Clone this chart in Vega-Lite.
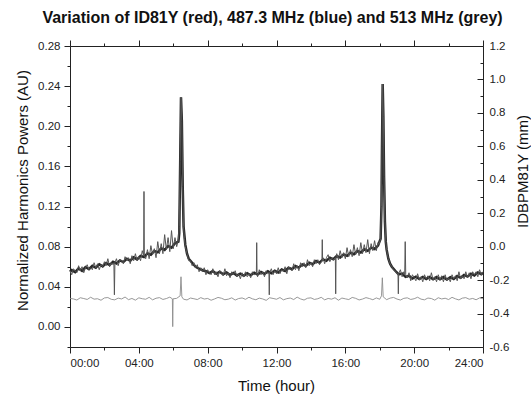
{
  "$schema": "https://vega.github.io/schema/vega-lite/v6.json",
  "autosize": {"type": "none"},
  "width": 413,
  "height": 301,
  "padding": {"left": 70, "top": 46, "right": 48, "bottom": 47},
  "background": "white",
  "title": {"text": "Variation of ID81Y (red), 487.3 MHz (blue) and 513 MHz (grey)", "font": "Liberation Sans", "fontSize": 16, "fontWeight": "bold", "color": "#111", "anchor": "middle", "offset": 14, "dx": -4},
  "config": {
    "view": {"stroke": null},
    "axis": {"labelFont": "Liberation Sans", "labelFontSize": 11.5, "labelColor": "#222", "titleFont": "Liberation Sans", "titleFontSize": 15, "titleFontWeight": "normal", "titleColor": "#111", "domainColor": "#222", "tickColor": "#222", "grid": false, "domainWidth": 1, "tickWidth": 1}
  },
  "datasets": {
    "blue": [
      {"t":0.0,"v":0.056},{"t":0.1,"v":0.052},{"t":0.2,"v":0.058},{"t":0.3,"v":0.056},{"t":0.4,"v":0.054},{"t":0.5,"v":0.061},{"t":0.6,"v":0.056},{"t":0.7,"v":0.060},{"t":0.8,"v":0.054},{"t":0.9,"v":0.059},
      {"t":1.0,"v":0.062},{"t":1.1,"v":0.057},{"t":1.2,"v":0.059},{"t":1.3,"v":0.057},{"t":1.4,"v":0.064},{"t":1.5,"v":0.059},{"t":1.6,"v":0.063},{"t":1.7,"v":0.057},{"t":1.8,"v":0.062},{"t":1.9,"v":0.060},
      {"t":2.0,"v":0.065},{"t":2.1,"v":0.061},{"t":2.2,"v":0.068},{"t":2.3,"v":0.060},{"t":2.4,"v":0.064},{"t":2.5,"v":0.062},{"t":2.55,"v":0.064},{"t":2.58,"v":0.032},{"t":2.61,"v":0.064},{"t":2.7,"v":0.068},{"t":2.8,"v":0.061},{"t":2.9,"v":0.067},
      {"t":3.0,"v":0.066},{"t":3.1,"v":0.063},{"t":3.2,"v":0.070},{"t":3.3,"v":0.066},{"t":3.4,"v":0.069},{"t":3.5,"v":0.063},{"t":3.6,"v":0.071},{"t":3.7,"v":0.066},{"t":3.8,"v":0.073},{"t":3.9,"v":0.066},
      {"t":4.0,"v":0.070},{"t":4.1,"v":0.066},{"t":4.2,"v":0.076},{"t":4.28,"v":0.071},{"t":4.3,"v":0.135},{"t":4.32,"v":0.071},{"t":4.4,"v":0.068},{"t":4.5,"v":0.077},{"t":4.6,"v":0.068},{"t":4.7,"v":0.081},{"t":4.8,"v":0.072},{"t":4.9,"v":0.078},
      {"t":5.0,"v":0.069},{"t":5.1,"v":0.085},{"t":5.2,"v":0.073},{"t":5.3,"v":0.083},{"t":5.4,"v":0.073},{"t":5.5,"v":0.092},{"t":5.6,"v":0.077},{"t":5.7,"v":0.089},{"t":5.8,"v":0.075},{"t":5.9,"v":0.096},
      {"t":6.0,"v":0.078},{"t":6.1,"v":0.089},{"t":6.2,"v":0.080},{"t":6.3,"v":0.087},{"t":6.35,"v":0.100},{"t":6.4,"v":0.165},{"t":6.45,"v":0.229},{"t":6.5,"v":0.205},{"t":6.55,"v":0.140},{"t":6.6,"v":0.100},{"t":6.65,"v":0.088},{"t":6.7,"v":0.080},{"t":6.8,"v":0.073},{"t":6.9,"v":0.066},
      {"t":7.0,"v":0.066},{"t":7.1,"v":0.061},{"t":7.2,"v":0.064},{"t":7.3,"v":0.059},{"t":7.4,"v":0.062},{"t":7.5,"v":0.055},{"t":7.6,"v":0.059},{"t":7.7,"v":0.055},{"t":7.8,"v":0.059},{"t":7.9,"v":0.052},
      {"t":8.0,"v":0.057},{"t":8.1,"v":0.054},{"t":8.2,"v":0.052},{"t":8.3,"v":0.058},{"t":8.4,"v":0.052},{"t":8.5,"v":0.055},{"t":8.6,"v":0.050},{"t":8.7,"v":0.056},{"t":8.8,"v":0.054},{"t":8.9,"v":0.051},
      {"t":9.0,"v":0.058},{"t":9.1,"v":0.051},{"t":9.2,"v":0.054},{"t":9.3,"v":0.049},{"t":9.4,"v":0.055},{"t":9.5,"v":0.052},{"t":9.6,"v":0.056},{"t":9.7,"v":0.050},{"t":9.8,"v":0.053},{"t":9.9,"v":0.048},
      {"t":10.0,"v":0.054},{"t":10.1,"v":0.050},{"t":10.2,"v":0.055},{"t":10.3,"v":0.050},{"t":10.4,"v":0.053},{"t":10.5,"v":0.049},{"t":10.6,"v":0.055},{"t":10.7,"v":0.052},{"t":10.83,"v":0.053},{"t":10.85,"v":0.084},{"t":10.87,"v":0.053},{"t":10.9,"v":0.050},
      {"t":11.0,"v":0.057},{"t":11.1,"v":0.052},{"t":11.2,"v":0.055},{"t":11.3,"v":0.050},{"t":11.4,"v":0.056},{"t":11.5,"v":0.053},{"t":11.56,"v":0.054},{"t":11.58,"v":0.032},{"t":11.6,"v":0.054},{"t":11.7,"v":0.058},{"t":11.8,"v":0.052},{"t":11.9,"v":0.056},
      {"t":12.0,"v":0.053},{"t":12.1,"v":0.059},{"t":12.2,"v":0.053},{"t":12.3,"v":0.057},{"t":12.4,"v":0.055},{"t":12.5,"v":0.060},{"t":12.6,"v":0.053},{"t":12.7,"v":0.060},{"t":12.8,"v":0.058},{"t":12.9,"v":0.056},
      {"t":13.0,"v":0.063},{"t":13.1,"v":0.057},{"t":13.2,"v":0.061},{"t":13.3,"v":0.056},{"t":13.4,"v":0.064},{"t":13.5,"v":0.060},{"t":13.6,"v":0.064},{"t":13.7,"v":0.059},{"t":13.8,"v":0.067},{"t":13.9,"v":0.061},
      {"t":14.0,"v":0.064},{"t":14.1,"v":0.060},{"t":14.2,"v":0.067},{"t":14.3,"v":0.063},{"t":14.4,"v":0.067},{"t":14.5,"v":0.062},{"t":14.64,"v":0.066},{"t":14.66,"v":0.087},{"t":14.68,"v":0.066},{"t":14.7,"v":0.069},{"t":14.8,"v":0.063},{"t":14.9,"v":0.069},
      {"t":15.0,"v":0.072},{"t":15.1,"v":0.065},{"t":15.2,"v":0.069},{"t":15.3,"v":0.067},{"t":15.42,"v":0.069},{"t":15.44,"v":0.033},{"t":15.46,"v":0.069},{"t":15.5,"v":0.073},{"t":15.6,"v":0.067},{"t":15.7,"v":0.076},{"t":15.8,"v":0.069},{"t":15.9,"v":0.074},
      {"t":16.0,"v":0.068},{"t":16.1,"v":0.079},{"t":16.2,"v":0.070},{"t":16.3,"v":0.077},{"t":16.4,"v":0.070},{"t":16.5,"v":0.082},{"t":16.6,"v":0.072},{"t":16.7,"v":0.079},{"t":16.8,"v":0.071},{"t":16.9,"v":0.084},
      {"t":17.0,"v":0.073},{"t":17.1,"v":0.082},{"t":17.2,"v":0.074},{"t":17.3,"v":0.087},{"t":17.4,"v":0.073},{"t":17.5,"v":0.083},{"t":17.6,"v":0.076},{"t":17.7,"v":0.086},{"t":17.8,"v":0.076},{"t":17.9,"v":0.084},
      {"t":17.95,"v":0.082},{"t":18.05,"v":0.088},{"t":18.1,"v":0.120},{"t":18.13,"v":0.180},{"t":18.17,"v":0.242},{"t":18.21,"v":0.210},{"t":18.25,"v":0.150},{"t":18.3,"v":0.105},{"t":18.35,"v":0.085},{"t":18.4,"v":0.077},{"t":18.45,"v":0.072},{"t":18.5,"v":0.068},{"t":18.6,"v":0.063},{"t":18.7,"v":0.060},{"t":18.8,"v":0.057},{"t":18.9,"v":0.056},
      {"t":19.0,"v":0.053},{"t":19.06,"v":0.053},{"t":19.08,"v":0.033},{"t":19.1,"v":0.053},{"t":19.2,"v":0.057},{"t":19.3,"v":0.050},{"t":19.4,"v":0.055},{"t":19.45,"v":0.052},{"t":19.48,"v":0.085},{"t":19.51,"v":0.052},{"t":19.6,"v":0.049},{"t":19.7,"v":0.054},{"t":19.8,"v":0.046},{"t":19.9,"v":0.052},
      {"t":20.0,"v":0.049},{"t":20.1,"v":0.046},{"t":20.2,"v":0.053},{"t":20.3,"v":0.047},{"t":20.4,"v":0.050},{"t":20.5,"v":0.045},{"t":20.6,"v":0.052},{"t":20.7,"v":0.048},{"t":20.8,"v":0.051},{"t":20.9,"v":0.046},
      {"t":21.0,"v":0.054},{"t":21.1,"v":0.047},{"t":21.2,"v":0.050},{"t":21.3,"v":0.045},{"t":21.4,"v":0.052},{"t":21.5,"v":0.047},{"t":21.6,"v":0.051},{"t":21.7,"v":0.045},{"t":21.8,"v":0.052},{"t":21.9,"v":0.046},
      {"t":22.0,"v":0.049},{"t":22.1,"v":0.045},{"t":22.2,"v":0.052},{"t":22.3,"v":0.048},{"t":22.4,"v":0.051},{"t":22.5,"v":0.046},{"t":22.6,"v":0.055},{"t":22.7,"v":0.048},{"t":22.8,"v":0.051},{"t":22.9,"v":0.048},
      {"t":23.0,"v":0.055},{"t":23.1,"v":0.049},{"t":23.2,"v":0.054},{"t":23.3,"v":0.048},{"t":23.4,"v":0.055},{"t":23.5,"v":0.052},{"t":23.6,"v":0.055},{"t":23.7,"v":0.050},{"t":23.8,"v":0.057},{"t":23.9,"v":0.052},{"t":24.0,"v":0.055}
    ],
    "red": [
      {"t":0.0,"v":-0.150},{"t":0.1,"v":-0.140},{"t":0.3,"v":-0.152},{"t":0.5,"v":-0.130},{"t":0.7,"v":-0.145},{"t":0.9,"v":-0.122},{"t":1.1,"v":-0.135},{"t":1.3,"v":-0.115},{"t":1.5,"v":-0.126},{"t":1.7,"v":-0.105},{"t":1.9,"v":-0.118},{"t":2.1,"v":-0.098},{"t":2.3,"v":-0.110},{"t":2.5,"v":-0.090},{"t":2.7,"v":-0.100},{"t":2.9,"v":-0.082},{"t":3.1,"v":-0.092},{"t":3.3,"v":-0.073},{"t":3.5,"v":-0.084},{"t":3.7,"v":-0.064},{"t":3.9,"v":-0.076},{"t":4.1,"v":-0.055},{"t":4.3,"v":-0.062},{"t":4.5,"v":-0.040},{"t":4.7,"v":-0.048},{"t":4.9,"v":-0.026},{"t":5.1,"v":-0.034},{"t":5.3,"v":-0.010},{"t":5.5,"v":-0.020},{"t":5.7,"v":0.004},{"t":5.9,"v":-0.006},{"t":6.1,"v":0.020},{"t":6.3,"v":0.030},{"t":6.35,"v":0.080},{"t":6.4,"v":0.480},{"t":6.45,"v":0.894},{"t":6.5,"v":0.750},{"t":6.55,"v":0.360},{"t":6.6,"v":0.120},{"t":6.7,"v":0.012},{"t":6.8,"v":-0.042},{"t":6.9,"v":-0.072},{"t":7.1,"v":-0.096},{"t":7.3,"v":-0.120},{"t":7.5,"v":-0.132},{"t":7.7,"v":-0.141},{"t":7.9,"v":-0.147},{"t":8.1,"v":-0.158},{"t":8.3,"v":-0.146},{"t":8.5,"v":-0.162},{"t":8.7,"v":-0.150},{"t":8.9,"v":-0.165},{"t":9.1,"v":-0.154},{"t":9.3,"v":-0.169},{"t":9.5,"v":-0.157},{"t":9.7,"v":-0.172},{"t":9.9,"v":-0.161},{"t":10.1,"v":-0.174},{"t":10.3,"v":-0.159},{"t":10.5,"v":-0.171},{"t":10.7,"v":-0.156},{"t":10.9,"v":-0.167},{"t":11.1,"v":-0.151},{"t":11.3,"v":-0.163},{"t":11.5,"v":-0.147},{"t":11.7,"v":-0.159},{"t":11.9,"v":-0.144},{"t":12.1,"v":-0.155},{"t":12.3,"v":-0.136},{"t":12.5,"v":-0.145},{"t":12.7,"v":-0.126},{"t":12.9,"v":-0.135},{"t":13.1,"v":-0.116},{"t":13.3,"v":-0.125},{"t":13.5,"v":-0.106},{"t":13.7,"v":-0.115},{"t":13.9,"v":-0.096},{"t":14.1,"v":-0.105},{"t":14.3,"v":-0.086},{"t":14.5,"v":-0.095},{"t":14.7,"v":-0.076},{"t":14.9,"v":-0.085},{"t":15.1,"v":-0.066},{"t":15.3,"v":-0.075},{"t":15.5,"v":-0.056},{"t":15.7,"v":-0.065},{"t":15.9,"v":-0.046},{"t":16.1,"v":-0.055},{"t":16.3,"v":-0.036},{"t":16.5,"v":-0.045},{"t":16.7,"v":-0.026},{"t":16.9,"v":-0.035},{"t":17.1,"v":-0.016},{"t":17.3,"v":-0.025},{"t":17.5,"v":-0.006},{"t":17.7,"v":-0.014},{"t":17.9,"v":0.006},{"t":18.05,"v":0.048},{"t":18.1,"v":0.240},{"t":18.13,"v":0.600},{"t":18.17,"v":0.972},{"t":18.21,"v":0.780},{"t":18.25,"v":0.420},{"t":18.3,"v":0.150},{"t":18.35,"v":0.030},{"t":18.4,"v":-0.018},{"t":18.5,"v":-0.072},{"t":18.6,"v":-0.102},{"t":18.7,"v":-0.120},{"t":18.9,"v":-0.144},{"t":19.1,"v":-0.166},{"t":19.3,"v":-0.161},{"t":19.5,"v":-0.181},{"t":19.7,"v":-0.174},{"t":19.9,"v":-0.191},{"t":20.1,"v":-0.180},{"t":20.3,"v":-0.194},{"t":20.5,"v":-0.181},{"t":20.7,"v":-0.194},{"t":20.9,"v":-0.181},{"t":21.1,"v":-0.195},{"t":21.3,"v":-0.182},{"t":21.5,"v":-0.195},{"t":21.7,"v":-0.182},{"t":21.9,"v":-0.196},{"t":22.1,"v":-0.183},{"t":22.3,"v":-0.194},{"t":22.5,"v":-0.176},{"t":22.7,"v":-0.186},{"t":22.9,"v":-0.169},{"t":23.1,"v":-0.179},{"t":23.3,"v":-0.162},{"t":23.5,"v":-0.172},{"t":23.7,"v":-0.154},{"t":23.9,"v":-0.165},{"t":24.0,"v":-0.156}
    ],
    "grey": [
      {"t":0.0,"v":0.0285},{"t":0.2,"v":0.0279},{"t":0.4,"v":0.0268},{"t":0.6,"v":0.0291},{"t":0.8,"v":0.0283},{"t":1.0,"v":0.0274},{"t":1.2,"v":0.0296},{"t":1.4,"v":0.0277},{"t":1.6,"v":0.0281},{"t":1.8,"v":0.0266},{"t":2.0,"v":0.0289},{"t":2.2,"v":0.0293},{"t":2.4,"v":0.0275},{"t":2.6,"v":0.0270},{"t":2.8,"v":0.0287},{"t":3.0,"v":0.0279},{"t":3.2,"v":0.0298},{"t":3.4,"v":0.0272},{"t":3.6,"v":0.0284},{"t":3.8,"v":0.0267},{"t":4.0,"v":0.0290},{"t":4.2,"v":0.0281},{"t":4.4,"v":0.0276},{"t":4.6,"v":0.0295},{"t":4.8,"v":0.0270},{"t":5.0,"v":0.0286},{"t":5.2,"v":0.0292},{"t":5.4,"v":0.0274},{"t":5.6,"v":0.0283},{"t":5.8,"v":0.0297},{"t":5.95,"v":0.0280},{"t":5.97,"v":0.0003},{"t":5.99,"v":0.0280},{"t":6.2,"v":0.0285},{"t":6.4,"v":0.0310},{"t":6.45,"v":0.0500},{"t":6.5,"v":0.0300},{"t":6.6,"v":0.0276},{"t":6.8,"v":0.0269},{"t":7.0,"v":0.0288},{"t":7.2,"v":0.0281},{"t":7.4,"v":0.0273},{"t":7.6,"v":0.0292},{"t":7.8,"v":0.0278},{"t":8.0,"v":0.0284},{"t":8.2,"v":0.0266},{"t":8.4,"v":0.0279},{"t":8.6,"v":0.0294},{"t":8.8,"v":0.0286},{"t":9.0,"v":0.0271},{"t":9.2,"v":0.0277},{"t":9.4,"v":0.0290},{"t":9.6,"v":0.0268},{"t":9.8,"v":0.0283},{"t":10.0,"v":0.0289},{"t":10.2,"v":0.0275},{"t":10.4,"v":0.0296},{"t":10.6,"v":0.0280},{"t":10.8,"v":0.0271},{"t":11.0,"v":0.0287},{"t":11.2,"v":0.0279},{"t":11.4,"v":0.0265},{"t":11.6,"v":0.0291},{"t":11.8,"v":0.0284},{"t":12.0,"v":0.0276},{"t":12.2,"v":0.0293},{"t":12.4,"v":0.0270},{"t":12.6,"v":0.0282},{"t":12.8,"v":0.0288},{"t":13.0,"v":0.0273},{"t":13.2,"v":0.0297},{"t":13.4,"v":0.0279},{"t":13.6,"v":0.0268},{"t":13.8,"v":0.0286},{"t":14.0,"v":0.0290},{"t":14.2,"v":0.0274},{"t":14.4,"v":0.0281},{"t":14.6,"v":0.0295},{"t":14.8,"v":0.0270},{"t":15.0,"v":0.0284},{"t":15.2,"v":0.0277},{"t":15.4,"v":0.0291},{"t":15.6,"v":0.0266},{"t":15.8,"v":0.0288},{"t":16.0,"v":0.0280},{"t":16.2,"v":0.0273},{"t":16.4,"v":0.0294},{"t":16.6,"v":0.0285},{"t":16.8,"v":0.0269},{"t":17.0,"v":0.0278},{"t":17.2,"v":0.0292},{"t":17.4,"v":0.0283},{"t":17.6,"v":0.0271},{"t":17.8,"v":0.0289},{"t":18.0,"v":0.0276},{"t":18.1,"v":0.0310},{"t":18.15,"v":0.0490},{"t":18.2,"v":0.0300},{"t":18.4,"v":0.0272},{"t":18.6,"v":0.0287},{"t":18.8,"v":0.0294},{"t":19.0,"v":0.0278},{"t":19.2,"v":0.0268},{"t":19.4,"v":0.0285},{"t":19.6,"v":0.0290},{"t":19.8,"v":0.0274},{"t":20.0,"v":0.0281},{"t":20.2,"v":0.0296},{"t":20.4,"v":0.0277},{"t":20.6,"v":0.0270},{"t":20.8,"v":0.0288},{"t":21.0,"v":0.0283},{"t":21.2,"v":0.0267},{"t":21.4,"v":0.0291},{"t":21.6,"v":0.0279},{"t":21.8,"v":0.0286},{"t":22.0,"v":0.0273},{"t":22.2,"v":0.0295},{"t":22.4,"v":0.0280},{"t":22.6,"v":0.0269},{"t":22.8,"v":0.0287},{"t":23.0,"v":0.0292},{"t":23.2,"v":0.0276},{"t":23.4,"v":0.0284},{"t":23.6,"v":0.0271},{"t":23.8,"v":0.0289},{"t":24.0,"v":0.0281}
    ]
  },
  "resolve": {"scale": {"y": "independent"}, "axis": {"x": "independent", "y": "independent"}},
  "layer": [
    {
      "data": {"name": "grey"},
      "mark": {"type": "line", "color": "#8c8c8c", "strokeWidth": 0.9},
      "encoding": {
        "x": {"field": "t", "type": "quantitative", "scale": {"domain": [0, 24], "nice": false, "zero": false},
              "axis": {"orient": "bottom", "values": [2, 6, 10, 14, 18, 22], "labels": false, "domain": false, "tickSize": 3, "title": null}},
        "y": {"field": "v", "type": "quantitative", "scale": {"domain": [-0.02, 0.28], "nice": false, "zero": false},
              "axis": {"orient": "left", "values": [-0.02, 0.02, 0.06, 0.10, 0.14, 0.18, 0.22, 0.26], "labels": false, "domain": false, "tickSize": 3, "title": null}}
      }
    },
    {
      "data": {"name": "red"},
      "mark": {"type": "line", "color": "#262626", "strokeWidth": 2.5},
      "encoding": {
        "x": {"field": "t", "type": "quantitative", "scale": {"domain": [0, 24], "nice": false, "zero": false},
              "axis": {"orient": "top", "values": [0, 4, 8, 12, 16, 20, 24], "labels": false, "tickSize": 6, "title": null}},
        "y": {"field": "v", "type": "quantitative", "scale": {"domain": [-0.6, 1.2], "nice": false, "zero": false},
              "axis": {"orient": "right", "values": [-0.6, -0.4, -0.2, 0, 0.2, 0.4, 0.6, 0.8, 1.0, 1.2], "labelExpr": "replace(format(datum.value, '.1f'), '\u2212', '-')", "tickSize": -6, "labelPadding": 12, "title": "IDBPM81Y (mm)", "titleAngle": -90, "titleX": 39, "titleY": 125, "titleAlign": "center", "titleBaseline": "middle"}}
      }
    },
    {
      "data": {"name": "blue"},
      "mark": {"type": "line", "color": "#555555", "strokeWidth": 1},
      "encoding": {
        "x": {"field": "t", "type": "quantitative", "scale": {"domain": [0, 24], "nice": false, "zero": false},
              "axis": {"orient": "bottom", "values": [0, 4, 8, 12, 16, 20, 24], "labelExpr": "(datum.value < 10 ? '0' : '') + datum.value + ':00'", "tickSize": 6, "labelPadding": 4, "title": "Time (hour)", "titleX": 206, "titleY": 38, "titleAlign": "center", "titleBaseline": "middle"}},
        "y": {"field": "v", "type": "quantitative", "scale": {"domain": [-0.02, 0.28], "nice": false, "zero": false},
              "axis": {"orient": "left", "values": [0, 0.04, 0.08, 0.12, 0.16, 0.2, 0.24, 0.28], "format": ".2f", "tickSize": 6, "labelPadding": 4, "title": "Normalized Harmonics Powers (AU)", "titleAngle": -90, "titleX": -48, "titleY": 144, "titleAlign": "center", "titleBaseline": "middle"}}
      }
    },
    {
      "data": {"name": "red"},
      "mark": {"type": "line", "strokeOpacity": 0},
      "encoding": {
        "x": {"field": "t", "type": "quantitative", "scale": {"domain": [0, 24], "nice": false, "zero": false},
              "axis": {"orient": "top", "values": [2, 6, 10, 14, 18, 22], "labels": false, "domain": false, "tickSize": 3, "title": null}},
        "y": {"field": "v", "type": "quantitative", "scale": {"domain": [-0.6, 1.2], "nice": false, "zero": false},
              "axis": {"orient": "right", "values": [-0.5, -0.3, -0.1, 0.1, 0.3, 0.5, 0.7, 0.9, 1.1], "labels": false, "domain": false, "tickSize": -3, "title": null}}
      }
    }
  ]
}
